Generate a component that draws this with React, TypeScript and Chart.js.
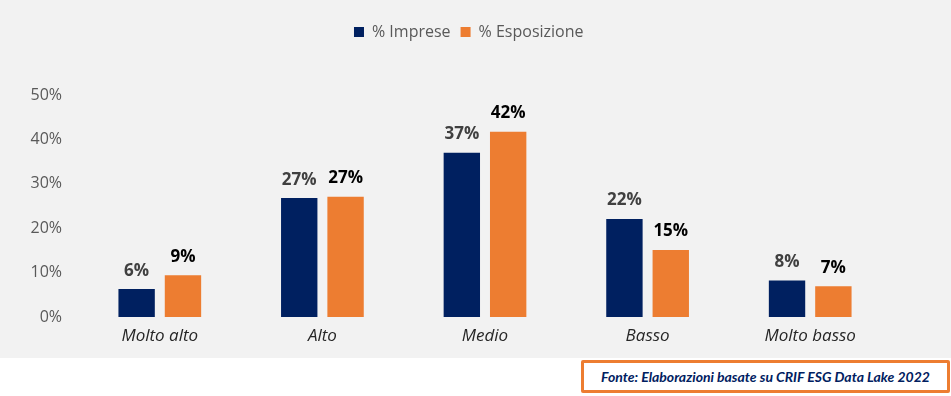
import React, { useEffect, useRef } from "react";
import { Chart, registerables } from "chart.js";

Chart.register(...registerables);

const categories = ["Molto alto", "Alto", "Medio", "Basso", "Molto basso"];
const seriesNames = ["% Imprese", "% Esposizione"];
const impreseValues = [6.3, 26.8, 37.0, 22.1, 8.2];
const esposizioneValues = [9.4, 27.1, 41.7, 15.1, 6.9];
const impreseLabels = ["6%", "27%", "37%", "22%", "8%"];
const esposizioneLabels = ["9%", "27%", "42%", "15%", "7%"];
const yTicks = [0, 10, 20, 30, 40, 50];
const sourceText = "Fonte: Elaborazioni basate su CRIF ESG Data Lake 2022";

const FONT = "'Open Sans', sans-serif";

export default function App() {
  const ref = useRef<HTMLCanvasElement | null>(null);

  useEffect(() => {
    document.body.style.margin = "0";
    if (!ref.current) return;
    const labelSets = [impreseLabels, esposizioneLabels];
    const labelColors = ["#404040", "#000000"];

    const dataLabels = {
      id: "dataLabels",
      afterDatasetsDraw(chart: any) {
        const ctx = chart.ctx;
        ctx.save();
        ctx.font = `bold 17px ${FONT}`;
        ctx.textAlign = "center";
        ctx.textBaseline = "alphabetic";
        chart.data.datasets.forEach((_: any, di: number) => {
          const meta = chart.getDatasetMeta(di);
          meta.data.forEach((bar: any, i: number) => {
            ctx.fillStyle = labelColors[di];
            ctx.fillText(labelSets[di][i], bar.x, bar.y - 13.5);
          });
        });
        ctx.restore();
      },
    };

    const legendFix = {
      id: "legendFix",
      beforeInit(chart: any) {
        const lg = chart.legend;
        if (lg) {
          const orig = lg.fit;
          lg.fit = function () {
            orig.call(this);
            this.height = 81;
          };
        }
      },
      afterLayout(chart: any) {
        const lg = chart.legend;
        if (lg) {
          lg.left += 23;
          lg.right += 23;
        }
      },
    };

    const chart = new Chart(ref.current, {
      type: "bar",
      data: {
        labels: categories,
        datasets: [
          {
            label: seriesNames[0],
            data: impreseValues,
            backgroundColor: "#002060",
            categoryPercentage: 0.57,
            barPercentage: 0.785,
          },
          {
            label: seriesNames[1],
            data: esposizioneValues,
            backgroundColor: "#ED7D31",
            categoryPercentage: 0.57,
            barPercentage: 0.785,
          },
        ],
      },
      options: {
        animation: false,
        responsive: false,
        maintainAspectRatio: false,
        layout: { padding: { left: 0, right: 59.5, top: 14, bottom: 0 } },
        plugins: {
          legend: {
            position: "top",
            labels: {
              boxWidth: 10,
              boxHeight: 10,
              padding: 10,
              color: "#595959",
              font: { family: FONT, size: 16 },
            },
          },
          tooltip: { enabled: false },
        },
        scales: {
          x: {
            grid: { display: false, drawTicks: false },
            border: { display: false },
            ticks: {
              color: "#262626",
              padding: 9,
              font: { family: FONT, size: 17, style: "italic" },
            },
            afterFit(scale: any) {
              scale.height = 41;
            },
          },
          y: {
            min: 0,
            max: 50,
            afterBuildTicks(scale: any) {
              scale.ticks = yTicks.map((v) => ({ value: v }));
            },
            grid: { display: false, drawTicks: false },
            border: { display: false },
            ticks: {
              color: "#595959",
              padding: 16.5,
              font: { family: FONT, size: 16 },
              callback: (v: any) => `${v}%`,
            },
            afterFit(scale: any) {
              scale.width = 78.5;
            },
          },
        },
      },
      plugins: [legendFix, dataLabels],
    });
    return () => chart.destroy();
  }, []);

  return (
    <div style={{ position: "relative", width: 951, height: 396, background: "#ffffff", overflow: "hidden" }}>
      <div style={{ position: "absolute", left: 0, top: 0, width: 951, height: 358, background: "#f2f2f2" }}>
        <canvas ref={ref} width={951} height={358} style={{ display: "block" }} />
      </div>
      <div
        style={{
          position: "absolute",
          left: 581,
          top: 360,
          width: 363,
          height: 27,
          border: "3px solid #ED7D31",
          borderRadius: 2,
          display: "flex",
          alignItems: "center",
          justifyContent: "center",
          fontFamily: "Lato, sans-serif",
          fontWeight: "bold",
          fontStyle: "italic",
          fontSize: 14,
          color: "#002060",
          whiteSpace: "nowrap",
        }}
      >
        {sourceText}
      </div>
    </div>
  );
}
